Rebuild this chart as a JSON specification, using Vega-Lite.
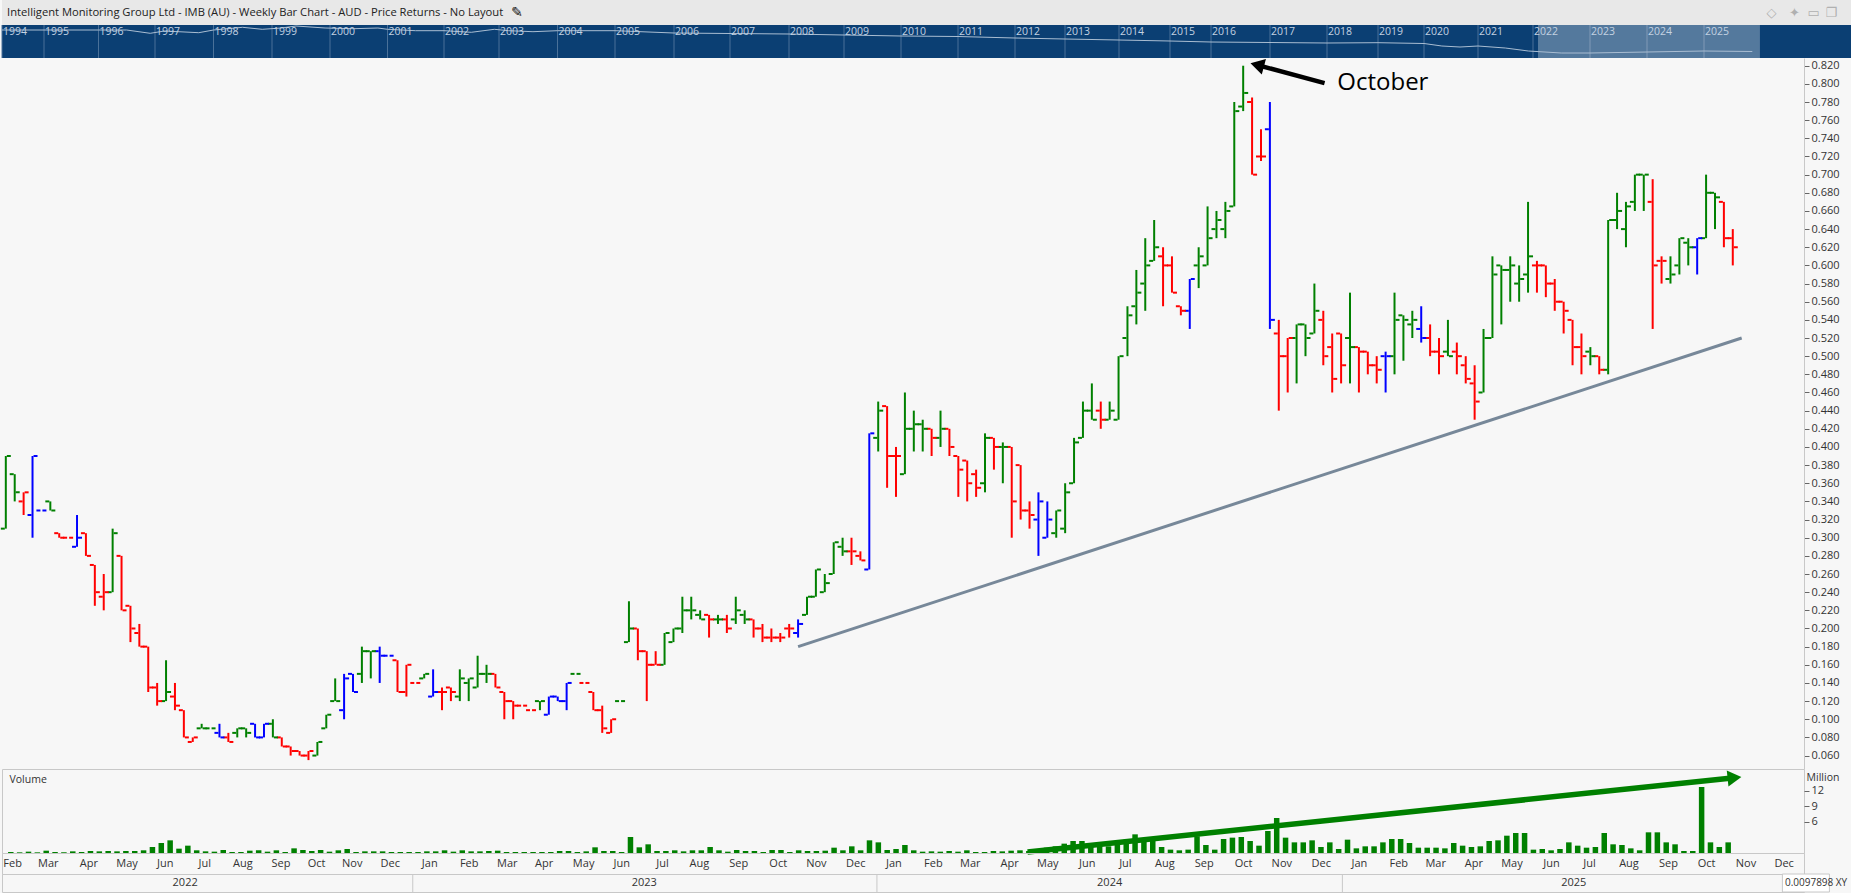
{
"$schema":"https://vega.github.io/schema/vega-lite/v6.json",
"padding":0,"spacing":0,"bounds":"flush","background":"#f7f7f7",
"config":{"view":{"stroke":null},"font":"Open Sans","text":{"font":"Open Sans"},"axis":{"labelOverlap":false,"labelBound":false,"labelFlush":false}},
"datasets":{"bars":[
{"date":"2022-02-15","open":0.31,"high":0.39,"low":0.31,"close":0.39,"trend":"up","volume":0.19},
{"date":"2022-02-22","open":0.37,"high":0.37,"low":0.34,"close":0.35,"trend":"up","volume":0.13},
{"date":"2022-03-01","open":0.34,"high":0.35,"low":0.325,"close":0.35,"trend":"down","volume":0.26},
{"date":"2022-03-08","open":0.325,"high":0.39,"low":0.3,"close":0.39,"trend":"neutral","volume":0.13},
{"date":"2022-03-15","open":0.33,"high":0.33,"low":0.33,"close":0.33,"trend":"neutral","volume":0.45},
{"date":"2022-03-22","open":0.34,"high":0.34,"low":0.33,"close":0.33,"trend":"up","volume":0.19},
{"date":"2022-03-29","open":0.305,"high":0.305,"low":0.3,"close":0.3,"trend":"down","volume":0.13},
{"date":"2022-04-05","open":0.3,"high":0.3,"low":0.3,"close":0.3,"trend":"down","volume":0.32},
{"date":"2022-04-12","open":0.29,"high":0.325,"low":0.29,"close":0.3,"trend":"neutral","volume":0.19},
{"date":"2022-04-19","open":0.305,"high":0.305,"low":0.28,"close":0.28,"trend":"down","volume":0.39},
{"date":"2022-04-26","open":0.27,"high":0.27,"low":0.225,"close":0.24,"trend":"down","volume":0.32},
{"date":"2022-05-03","open":0.235,"high":0.26,"low":0.22,"close":0.24,"trend":"down","volume":0.39},
{"date":"2022-05-10","open":0.24,"high":0.31,"low":0.24,"close":0.305,"trend":"up","volume":0.32},
{"date":"2022-05-17","open":0.28,"high":0.28,"low":0.22,"close":0.22,"trend":"down","volume":0.39},
{"date":"2022-05-24","open":0.225,"high":0.225,"low":0.185,"close":0.2,"trend":"down","volume":0.39},
{"date":"2022-05-31","open":0.195,"high":0.205,"low":0.18,"close":0.18,"trend":"down","volume":0.52},
{"date":"2022-06-07","open":0.18,"high":0.18,"low":0.13,"close":0.135,"trend":"down","volume":1.16},
{"date":"2022-06-14","open":0.135,"high":0.14,"low":0.115,"close":0.12,"trend":"down","volume":1.94},
{"date":"2022-06-21","open":0.12,"high":0.165,"low":0.12,"close":0.13,"trend":"up","volume":2.45},
{"date":"2022-06-28","open":0.125,"high":0.14,"low":0.11,"close":0.115,"trend":"down","volume":0.84},
{"date":"2022-07-05","open":0.11,"high":0.11,"low":0.08,"close":0.08,"trend":"down","volume":1.42},
{"date":"2022-07-12","open":0.075,"high":0.08,"low":0.075,"close":0.08,"trend":"down","volume":0.52},
{"date":"2022-07-19","open":0.09,"high":0.095,"low":0.09,"close":0.09,"trend":"up","volume":0.32},
{"date":"2022-07-26","open":0.09,"high":0.09,"low":0.09,"close":0.09,"trend":"up","volume":0.26},
{"date":"2022-08-02","open":0.085,"high":0.095,"low":0.08,"close":0.08,"trend":"neutral","volume":0.58},
{"date":"2022-08-09","open":0.08,"high":0.085,"low":0.075,"close":0.075,"trend":"down","volume":0.19},
{"date":"2022-08-16","open":0.085,"high":0.09,"low":0.08,"close":0.09,"trend":"up","volume":0.19},
{"date":"2022-08-23","open":0.09,"high":0.09,"low":0.08,"close":0.085,"trend":"up","volume":0.45},
{"date":"2022-08-30","open":0.095,"high":0.095,"low":0.08,"close":0.08,"trend":"neutral","volume":0.52},
{"date":"2022-09-06","open":0.08,"high":0.095,"low":0.08,"close":0.095,"trend":"neutral","volume":0.26},
{"date":"2022-09-13","open":0.095,"high":0.1,"low":0.08,"close":0.08,"trend":"up","volume":0.52},
{"date":"2022-09-20","open":0.08,"high":0.08,"low":0.07,"close":0.07,"trend":"down","volume":0.19},
{"date":"2022-09-27","open":0.07,"high":0.07,"low":0.06,"close":0.065,"trend":"down","volume":0.9},
{"date":"2022-10-04","open":0.065,"high":0.065,"low":0.06,"close":0.06,"trend":"down","volume":0.58},
{"date":"2022-10-11","open":0.06,"high":0.065,"low":0.055,"close":0.065,"trend":"down","volume":0.39},
{"date":"2022-10-18","open":0.06,"high":0.075,"low":0.06,"close":0.075,"trend":"up","volume":0.58},
{"date":"2022-10-25","open":0.09,"high":0.105,"low":0.09,"close":0.105,"trend":"up","volume":0.26},
{"date":"2022-11-01","open":0.12,"high":0.145,"low":0.12,"close":0.12,"trend":"up","volume":0.52},
{"date":"2022-11-08","open":0.11,"high":0.15,"low":0.1,"close":0.145,"trend":"neutral","volume":0.77},
{"date":"2022-11-15","open":0.15,"high":0.15,"low":0.13,"close":0.13,"trend":"neutral","volume":0.19},
{"date":"2022-11-22","open":0.15,"high":0.18,"low":0.14,"close":0.175,"trend":"up","volume":0.32},
{"date":"2022-11-29","open":0.175,"high":0.175,"low":0.145,"close":0.175,"trend":"up","volume":0.32},
{"date":"2022-12-06","open":0.175,"high":0.18,"low":0.14,"close":0.17,"trend":"neutral","volume":0.32},
{"date":"2022-12-13","open":0.17,"high":0.17,"low":0.17,"close":0.17,"trend":"neutral","volume":0.19},
{"date":"2022-12-20","open":0.165,"high":0.165,"low":0.13,"close":0.13,"trend":"down","volume":0.19},
{"date":"2022-12-27","open":0.13,"high":0.16,"low":0.125,"close":0.16,"trend":"down","volume":0.19},
{"date":"2023-01-03","open":0.14,"high":0.14,"low":0.14,"close":0.14,"trend":"down","volume":0.19},
{"date":"2023-01-10","open":0.145,"high":0.15,"low":0.145,"close":0.15,"trend":"up","volume":0.32},
{"date":"2023-01-17","open":0.125,"high":0.155,"low":0.125,"close":0.13,"trend":"neutral","volume":0.32},
{"date":"2023-01-24","open":0.13,"high":0.135,"low":0.11,"close":0.13,"trend":"down","volume":0.52},
{"date":"2023-01-31","open":0.135,"high":0.135,"low":0.12,"close":0.13,"trend":"down","volume":0.26},
{"date":"2023-02-07","open":0.125,"high":0.155,"low":0.12,"close":0.145,"trend":"up","volume":0.52},
{"date":"2023-02-14","open":0.14,"high":0.145,"low":0.12,"close":0.145,"trend":"up","volume":0.32},
{"date":"2023-02-21","open":0.135,"high":0.17,"low":0.135,"close":0.15,"trend":"up","volume":0.32},
{"date":"2023-02-28","open":0.15,"high":0.16,"low":0.14,"close":0.15,"trend":"up","volume":0.39},
{"date":"2023-03-07","open":0.15,"high":0.15,"low":0.135,"close":0.135,"trend":"down","volume":0.45},
{"date":"2023-03-14","open":0.13,"high":0.13,"low":0.1,"close":0.12,"trend":"down","volume":0.19},
{"date":"2023-03-21","open":0.12,"high":0.12,"low":0.1,"close":0.115,"trend":"down","volume":0.19},
{"date":"2023-03-28","open":0.115,"high":0.115,"low":0.115,"close":0.115,"trend":"down","volume":0.19},
{"date":"2023-04-04","open":0.11,"high":0.11,"low":0.11,"close":0.11,"trend":"down","volume":0.19},
{"date":"2023-04-11","open":0.12,"high":0.12,"low":0.11,"close":0.12,"trend":"up","volume":0.19},
{"date":"2023-04-18","open":0.105,"high":0.125,"low":0.105,"close":0.125,"trend":"neutral","volume":0.19},
{"date":"2023-04-25","open":0.125,"high":0.125,"low":0.12,"close":0.12,"trend":"neutral","volume":0.39},
{"date":"2023-05-02","open":0.12,"high":0.14,"low":0.11,"close":0.14,"trend":"neutral","volume":0.39},
{"date":"2023-05-09","open":0.15,"high":0.15,"low":0.15,"close":0.15,"trend":"up","volume":0.19},
{"date":"2023-05-16","open":0.14,"high":0.14,"low":0.14,"close":0.14,"trend":"down","volume":0.32},
{"date":"2023-05-23","open":0.13,"high":0.13,"low":0.11,"close":0.11,"trend":"down","volume":1.1},
{"date":"2023-05-30","open":0.11,"high":0.115,"low":0.085,"close":0.09,"trend":"down","volume":0.39},
{"date":"2023-06-06","open":0.085,"high":0.1,"low":0.085,"close":0.1,"trend":"down","volume":0.39},
{"date":"2023-06-13","open":0.12,"high":0.12,"low":0.12,"close":0.12,"trend":"up","volume":0.19},
{"date":"2023-06-20","open":0.185,"high":0.23,"low":0.185,"close":0.2,"trend":"up","volume":3.1},
{"date":"2023-06-27","open":0.2,"high":0.2,"low":0.165,"close":0.175,"trend":"down","volume":1.1},
{"date":"2023-07-04","open":0.175,"high":0.175,"low":0.12,"close":0.16,"trend":"down","volume":1.68},
{"date":"2023-07-11","open":0.16,"high":0.175,"low":0.16,"close":0.16,"trend":"down","volume":0.39},
{"date":"2023-07-18","open":0.16,"high":0.195,"low":0.16,"close":0.195,"trend":"up","volume":0.39},
{"date":"2023-07-25","open":0.185,"high":0.2,"low":0.185,"close":0.2,"trend":"up","volume":0.52},
{"date":"2023-08-01","open":0.2,"high":0.235,"low":0.195,"close":0.22,"trend":"up","volume":0.32},
{"date":"2023-08-08","open":0.22,"high":0.235,"low":0.21,"close":0.22,"trend":"up","volume":0.52},
{"date":"2023-08-15","open":0.215,"high":0.22,"low":0.21,"close":0.21,"trend":"up","volume":0.52},
{"date":"2023-08-22","open":0.215,"high":0.215,"low":0.19,"close":0.21,"trend":"down","volume":1.16},
{"date":"2023-08-29","open":0.21,"high":0.215,"low":0.205,"close":0.21,"trend":"up","volume":0.52},
{"date":"2023-09-05","open":0.21,"high":0.215,"low":0.195,"close":0.2,"trend":"down","volume":0.26},
{"date":"2023-09-12","open":0.21,"high":0.235,"low":0.205,"close":0.22,"trend":"up","volume":0.58},
{"date":"2023-09-19","open":0.215,"high":0.22,"low":0.205,"close":0.21,"trend":"up","volume":0.39},
{"date":"2023-09-26","open":0.21,"high":0.21,"low":0.19,"close":0.2,"trend":"down","volume":0.39},
{"date":"2023-10-03","open":0.2,"high":0.205,"low":0.185,"close":0.19,"trend":"down","volume":0.19},
{"date":"2023-10-10","open":0.19,"high":0.2,"low":0.185,"close":0.19,"trend":"down","volume":0.58},
{"date":"2023-10-17","open":0.19,"high":0.195,"low":0.185,"close":0.19,"trend":"down","volume":0.58},
{"date":"2023-10-24","open":0.2,"high":0.205,"low":0.19,"close":0.2,"trend":"down","volume":0.19},
{"date":"2023-10-31","open":0.195,"high":0.21,"low":0.19,"close":0.205,"trend":"neutral","volume":0.52},
{"date":"2023-11-07","open":0.215,"high":0.235,"low":0.215,"close":0.235,"trend":"up","volume":0.39},
{"date":"2023-11-14","open":0.235,"high":0.265,"low":0.235,"close":0.265,"trend":"up","volume":0.39},
{"date":"2023-11-21","open":0.24,"high":0.26,"low":0.24,"close":0.25,"trend":"up","volume":0.45},
{"date":"2023-11-28","open":0.26,"high":0.295,"low":0.26,"close":0.295,"trend":"up","volume":1.03},
{"date":"2023-12-05","open":0.29,"high":0.3,"low":0.28,"close":0.285,"trend":"up","volume":0.52},
{"date":"2023-12-12","open":0.285,"high":0.3,"low":0.27,"close":0.285,"trend":"down","volume":1.29},
{"date":"2023-12-19","open":0.28,"high":0.285,"low":0.275,"close":0.275,"trend":"down","volume":0.52},
{"date":"2023-12-26","open":0.265,"high":0.415,"low":0.265,"close":0.415,"trend":"neutral","volume":2.45},
{"date":"2024-01-02","open":0.41,"high":0.45,"low":0.395,"close":0.44,"trend":"up","volume":2.06},
{"date":"2024-01-09","open":0.445,"high":0.445,"low":0.355,"close":0.39,"trend":"down","volume":0.58},
{"date":"2024-01-16","open":0.39,"high":0.4,"low":0.345,"close":0.39,"trend":"down","volume":0.77},
{"date":"2024-01-23","open":0.37,"high":0.46,"low":0.37,"close":0.42,"trend":"up","volume":1.55},
{"date":"2024-01-30","open":0.42,"high":0.44,"low":0.395,"close":0.425,"trend":"up","volume":0.52},
{"date":"2024-02-06","open":0.425,"high":0.43,"low":0.395,"close":0.42,"trend":"up","volume":0.26},
{"date":"2024-02-13","open":0.42,"high":0.42,"low":0.39,"close":0.41,"trend":"down","volume":0.32},
{"date":"2024-02-20","open":0.41,"high":0.44,"low":0.4,"close":0.42,"trend":"up","volume":0.26},
{"date":"2024-02-27","open":0.42,"high":0.42,"low":0.39,"close":0.4,"trend":"down","volume":0.39},
{"date":"2024-03-05","open":0.39,"high":0.39,"low":0.345,"close":0.375,"trend":"down","volume":0.26},
{"date":"2024-03-12","open":0.385,"high":0.385,"low":0.34,"close":0.36,"trend":"down","volume":0.52},
{"date":"2024-03-19","open":0.37,"high":0.375,"low":0.345,"close":0.355,"trend":"down","volume":0.19},
{"date":"2024-03-26","open":0.36,"high":0.415,"low":0.35,"close":0.41,"trend":"up","volume":0.19},
{"date":"2024-04-02","open":0.41,"high":0.41,"low":0.375,"close":0.4,"trend":"down","volume":0.39},
{"date":"2024-04-09","open":0.4,"high":0.405,"low":0.36,"close":0.4,"trend":"up","volume":0.32},
{"date":"2024-04-16","open":0.4,"high":0.4,"low":0.3,"close":0.34,"trend":"down","volume":0.45},
{"date":"2024-04-23","open":0.38,"high":0.38,"low":0.32,"close":0.33,"trend":"down","volume":0.52},
{"date":"2024-04-30","open":0.33,"high":0.34,"low":0.31,"close":0.325,"trend":"down","volume":0.39},
{"date":"2024-05-07","open":0.32,"high":0.35,"low":0.28,"close":0.34,"trend":"neutral","volume":0.77},
{"date":"2024-05-14","open":0.3,"high":0.34,"low":0.3,"close":0.32,"trend":"neutral","volume":1.03},
{"date":"2024-05-21","open":0.305,"high":0.33,"low":0.3,"close":0.33,"trend":"up","volume":1.29},
{"date":"2024-05-28","open":0.31,"high":0.36,"low":0.305,"close":0.35,"trend":"up","volume":1.81},
{"date":"2024-06-04","open":0.36,"high":0.41,"low":0.36,"close":0.405,"trend":"up","volume":2.32},
{"date":"2024-06-11","open":0.41,"high":0.45,"low":0.41,"close":0.44,"trend":"up","volume":2.32},
{"date":"2024-06-18","open":0.44,"high":0.47,"low":0.43,"close":0.43,"trend":"up","volume":1.94},
{"date":"2024-06-25","open":0.44,"high":0.45,"low":0.42,"close":0.43,"trend":"down","volume":1.68},
{"date":"2024-07-02","open":0.43,"high":0.45,"low":0.43,"close":0.44,"trend":"up","volume":1.29},
{"date":"2024-07-09","open":0.43,"high":0.5,"low":0.43,"close":0.5,"trend":"up","volume":2.32},
{"date":"2024-07-16","open":0.52,"high":0.555,"low":0.5,"close":0.545,"trend":"up","volume":2.58},
{"date":"2024-07-23","open":0.555,"high":0.595,"low":0.535,"close":0.57,"trend":"up","volume":3.61},
{"date":"2024-07-30","open":0.58,"high":0.63,"low":0.55,"close":0.6,"trend":"up","volume":2.58},
{"date":"2024-08-06","open":0.605,"high":0.65,"low":0.605,"close":0.62,"trend":"up","volume":2.32},
{"date":"2024-08-13","open":0.61,"high":0.62,"low":0.555,"close":0.6,"trend":"down","volume":1.16},
{"date":"2024-08-20","open":0.6,"high":0.61,"low":0.57,"close":0.57,"trend":"down","volume":0.65},
{"date":"2024-08-27","open":0.555,"high":0.555,"low":0.545,"close":0.55,"trend":"down","volume":0.52},
{"date":"2024-09-03","open":0.55,"high":0.585,"low":0.53,"close":0.585,"trend":"neutral","volume":0.65},
{"date":"2024-09-10","open":0.6,"high":0.62,"low":0.575,"close":0.61,"trend":"up","volume":3.23},
{"date":"2024-09-17","open":0.6,"high":0.665,"low":0.6,"close":0.63,"trend":"up","volume":1.55},
{"date":"2024-09-24","open":0.64,"high":0.66,"low":0.63,"close":0.65,"trend":"up","volume":0.65},
{"date":"2024-10-01","open":0.64,"high":0.67,"low":0.63,"close":0.66,"trend":"up","volume":2.71},
{"date":"2024-10-08","open":0.665,"high":0.78,"low":0.665,"close":0.77,"trend":"up","volume":2.97},
{"date":"2024-10-15","open":0.775,"high":0.82,"low":0.77,"close":0.79,"trend":"up","volume":3.1},
{"date":"2024-10-22","open":0.78,"high":0.785,"low":0.7,"close":0.7,"trend":"down","volume":2.32},
{"date":"2024-10-29","open":0.72,"high":0.75,"low":0.715,"close":0.72,"trend":"down","volume":1.42},
{"date":"2024-11-05","open":0.75,"high":0.78,"low":0.53,"close":0.54,"trend":"neutral","volume":4.26},
{"date":"2024-11-12","open":0.525,"high":0.54,"low":0.44,"close":0.5,"trend":"down","volume":6.77},
{"date":"2024-11-19","open":0.5,"high":0.52,"low":0.46,"close":0.52,"trend":"down","volume":2.97},
{"date":"2024-11-26","open":0.52,"high":0.535,"low":0.47,"close":0.535,"trend":"up","volume":2.06},
{"date":"2024-12-03","open":0.535,"high":0.535,"low":0.5,"close":0.52,"trend":"up","volume":2.06},
{"date":"2024-12-10","open":0.525,"high":0.58,"low":0.525,"close":0.55,"trend":"up","volume":2.45},
{"date":"2024-12-17","open":0.54,"high":0.55,"low":0.49,"close":0.5,"trend":"down","volume":1.16},
{"date":"2024-12-24","open":0.51,"high":0.525,"low":0.46,"close":0.475,"trend":"down","volume":2.06},
{"date":"2024-12-31","open":0.525,"high":0.525,"low":0.47,"close":0.49,"trend":"down","volume":0.77},
{"date":"2025-01-07","open":0.52,"high":0.57,"low":0.47,"close":0.51,"trend":"up","volume":2.58},
{"date":"2025-01-14","open":0.51,"high":0.51,"low":0.46,"close":0.505,"trend":"down","volume":0.9},
{"date":"2025-01-21","open":0.505,"high":0.505,"low":0.48,"close":0.49,"trend":"down","volume":1.29},
{"date":"2025-01-28","open":0.49,"high":0.5,"low":0.47,"close":0.485,"trend":"down","volume":1.29},
{"date":"2025-02-04","open":0.5,"high":0.505,"low":0.46,"close":0.5,"trend":"neutral","volume":2.06},
{"date":"2025-02-11","open":0.5,"high":0.57,"low":0.48,"close":0.54,"trend":"up","volume":2.71},
{"date":"2025-02-18","open":0.545,"high":0.545,"low":0.495,"close":0.54,"trend":"up","volume":2.71},
{"date":"2025-02-25","open":0.535,"high":0.55,"low":0.52,"close":0.54,"trend":"up","volume":1.94},
{"date":"2025-03-04","open":0.53,"high":0.555,"low":0.515,"close":0.52,"trend":"neutral","volume":1.03},
{"date":"2025-03-11","open":0.52,"high":0.535,"low":0.5,"close":0.505,"trend":"down","volume":1.03},
{"date":"2025-03-18","open":0.505,"high":0.52,"low":0.48,"close":0.5,"trend":"down","volume":1.03},
{"date":"2025-03-25","open":0.505,"high":0.54,"low":0.5,"close":0.5,"trend":"up","volume":0.9},
{"date":"2025-04-01","open":0.505,"high":0.515,"low":0.48,"close":0.5,"trend":"down","volume":1.94},
{"date":"2025-04-08","open":0.49,"high":0.5,"low":0.47,"close":0.475,"trend":"down","volume":1.42},
{"date":"2025-04-15","open":0.47,"high":0.49,"low":0.43,"close":0.45,"trend":"down","volume":1.16},
{"date":"2025-04-22","open":0.46,"high":0.53,"low":0.46,"close":0.52,"trend":"up","volume":1.29},
{"date":"2025-04-29","open":0.52,"high":0.61,"low":0.52,"close":0.59,"trend":"up","volume":2.32},
{"date":"2025-05-06","open":0.6,"high":0.6,"low":0.535,"close":0.595,"trend":"up","volume":2.45},
{"date":"2025-05-13","open":0.595,"high":0.61,"low":0.56,"close":0.6,"trend":"up","volume":3.35},
{"date":"2025-05-20","open":0.58,"high":0.6,"low":0.56,"close":0.585,"trend":"up","volume":3.87},
{"date":"2025-05-27","open":0.59,"high":0.67,"low":0.57,"close":0.61,"trend":"up","volume":3.87},
{"date":"2025-06-03","open":0.6,"high":0.605,"low":0.57,"close":0.6,"trend":"down","volume":0.65},
{"date":"2025-06-10","open":0.6,"high":0.6,"low":0.565,"close":0.58,"trend":"down","volume":0.77},
{"date":"2025-06-17","open":0.58,"high":0.585,"low":0.55,"close":0.56,"trend":"down","volume":0.52},
{"date":"2025-06-24","open":0.56,"high":0.56,"low":0.525,"close":0.55,"trend":"down","volume":0.77},
{"date":"2025-07-01","open":0.54,"high":0.54,"low":0.49,"close":0.51,"trend":"down","volume":2.06},
{"date":"2025-07-08","open":0.51,"high":0.525,"low":0.48,"close":0.5,"trend":"down","volume":1.42},
{"date":"2025-07-15","open":0.505,"high":0.51,"low":0.49,"close":0.5,"trend":"up","volume":1.03},
{"date":"2025-07-22","open":0.5,"high":0.5,"low":0.48,"close":0.485,"trend":"down","volume":1.16},
{"date":"2025-07-29","open":0.485,"high":0.65,"low":0.48,"close":0.65,"trend":"up","volume":3.87},
{"date":"2025-08-05","open":0.65,"high":0.68,"low":0.64,"close":0.66,"trend":"up","volume":1.68},
{"date":"2025-08-12","open":0.64,"high":0.67,"low":0.62,"close":0.665,"trend":"up","volume":1.55},
{"date":"2025-08-19","open":0.67,"high":0.7,"low":0.66,"close":0.7,"trend":"up","volume":0.9},
{"date":"2025-08-26","open":0.7,"high":0.7,"low":0.66,"close":0.7,"trend":"up","volume":0.52},
{"date":"2025-09-02","open":0.67,"high":0.695,"low":0.53,"close":0.6,"trend":"down","volume":4.0},
{"date":"2025-09-09","open":0.605,"high":0.61,"low":0.58,"close":0.605,"trend":"down","volume":4.0},
{"date":"2025-09-16","open":0.585,"high":0.61,"low":0.58,"close":0.59,"trend":"up","volume":2.06},
{"date":"2025-09-23","open":0.6,"high":0.63,"low":0.59,"close":0.63,"trend":"up","volume":1.68},
{"date":"2025-09-30","open":0.625,"high":0.63,"low":0.6,"close":0.62,"trend":"up","volume":0.39},
{"date":"2025-10-07","open":0.62,"high":0.63,"low":0.59,"close":0.63,"trend":"neutral","volume":0.39},
{"date":"2025-10-14","open":0.63,"high":0.7,"low":0.63,"close":0.68,"trend":"up","volume":12.77},
{"date":"2025-10-21","open":0.68,"high":0.68,"low":0.64,"close":0.675,"trend":"up","volume":2.06},
{"date":"2025-10-28","open":0.67,"high":0.67,"low":0.62,"close":0.63,"trend":"down","volume":1.16},
{"date":"2025-11-04","open":0.63,"high":0.64,"low":0.6,"close":0.62,"trend":"down","volume":2.06}
],
"months":[
{"date":"2022-02-07","month":"Feb"},{"date":"2022-03-07","month":"Mar"},{"date":"2022-04-08","month":"Apr"},{"date":"2022-05-08","month":"May"},{"date":"2022-06-07","month":"Jun"},{"date":"2022-07-08","month":"Jul"},{"date":"2022-08-07","month":"Aug"},{"date":"2022-09-06","month":"Sep"},{"date":"2022-10-04","month":"Oct"},{"date":"2022-11-01","month":"Nov"},{"date":"2022-12-01","month":"Dec"},
{"date":"2023-01-01","month":"Jan"},{"date":"2023-02-01","month":"Feb"},{"date":"2023-03-03","month":"Mar"},{"date":"2023-04-01","month":"Apr"},{"date":"2023-05-02","month":"May"},{"date":"2023-06-01","month":"Jun"},{"date":"2023-07-03","month":"Jul"},{"date":"2023-08-01","month":"Aug"},{"date":"2023-09-01","month":"Sep"},{"date":"2023-10-02","month":"Oct"},{"date":"2023-11-01","month":"Nov"},{"date":"2023-12-02","month":"Dec"},
{"date":"2024-01-01","month":"Jan"},{"date":"2024-02-01","month":"Feb"},{"date":"2024-03-01","month":"Mar"},{"date":"2024-04-01","month":"Apr"},{"date":"2024-05-01","month":"May"},{"date":"2024-06-01","month":"Jun"},{"date":"2024-07-01","month":"Jul"},{"date":"2024-08-01","month":"Aug"},{"date":"2024-09-01","month":"Sep"},{"date":"2024-10-02","month":"Oct"},{"date":"2024-11-01","month":"Nov"},{"date":"2024-12-02","month":"Dec"},
{"date":"2025-01-01","month":"Jan"},{"date":"2025-02-01","month":"Feb"},{"date":"2025-03-02","month":"Mar"},{"date":"2025-04-01","month":"Apr"},{"date":"2025-05-01","month":"May"},{"date":"2025-06-01","month":"Jun"},{"date":"2025-07-01","month":"Jul"},{"date":"2025-08-01","month":"Aug"},{"date":"2025-09-01","month":"Sep"},{"date":"2025-10-01","month":"Oct"},{"date":"2025-11-01","month":"Nov"},{"date":"2025-12-01","month":"Dec"}
],
"navYears":[
{"date":"1994-01-01","year":"1994"},{"date":"1995-01-01","year":"1995"},{"date":"1996-01-01","year":"1996"},{"date":"1997-01-01","year":"1997"},{"date":"1998-01-01","year":"1998"},{"date":"1999-01-01","year":"1999"},{"date":"2000-01-01","year":"2000"},{"date":"2001-01-01","year":"2001"},{"date":"2002-01-01","year":"2002"},{"date":"2003-01-01","year":"2003"},{"date":"2004-01-01","year":"2004"},{"date":"2005-01-01","year":"2005"},{"date":"2006-01-01","year":"2006"},{"date":"2007-01-01","year":"2007"},{"date":"2008-01-01","year":"2008"},{"date":"2009-01-01","year":"2009"},{"date":"2010-01-01","year":"2010"},{"date":"2011-01-01","year":"2011"},{"date":"2012-01-01","year":"2012"},{"date":"2013-01-01","year":"2013"},{"date":"2014-01-01","year":"2014"},{"date":"2015-01-01","year":"2015"},{"date":"2016-01-01","year":"2016"},{"date":"2017-01-01","year":"2017"},{"date":"2018-01-01","year":"2018"},{"date":"2019-01-01","year":"2019"},{"date":"2020-01-01","year":"2020"},{"date":"2021-01-01","year":"2021"},{"date":"2022-01-01","year":"2022"},{"date":"2023-01-01","year":"2023"},{"date":"2024-01-01","year":"2024"},{"date":"2025-01-01","year":"2025"}
],
"navLine":[
{"date":"1994-01-01","level":28},{"date":"1995-01-01","level":28},{"date":"1996-01-01","level":28},{"date":"1996-07-01","level":28},{"date":"1996-12-01","level":24.7},{"date":"1997-03-01","level":27},{"date":"1997-10-01","level":25.3},{"date":"1998-01-01","level":28},{"date":"1998-07-01","level":30.7},{"date":"1998-11-01","level":28.7},{"date":"1999-03-01","level":30},{"date":"1999-06-01","level":32},{"date":"1999-12-01","level":30},{"date":"2000-06-01","level":29.3},{"date":"2000-11-01","level":30},{"date":"2001-01-01","level":28.7},{"date":"2001-07-01","level":27.3},{"date":"2002-01-01","level":27.3},{"date":"2002-07-01","level":25.7},{"date":"2002-12-01","level":28.7},{"date":"2003-03-01","level":27.3},{"date":"2003-08-01","level":26.3},{"date":"2004-01-01","level":27.3},{"date":"2005-01-01","level":27.3},{"date":"2006-01-01","level":25},{"date":"2007-01-01","level":24.5},{"date":"2008-01-01","level":24},{"date":"2009-01-01","level":23},{"date":"2010-01-01","level":22},{"date":"2011-01-01","level":21.5},{"date":"2012-01-01","level":20},{"date":"2013-01-01","level":19},{"date":"2014-01-01","level":18},{"date":"2015-01-01","level":17},{"date":"2016-01-01","level":16},{"date":"2017-01-01","level":15.5},{"date":"2018-01-01","level":15},{"date":"2019-01-01","level":15.3},{"date":"2020-01-01","level":14.5},{"date":"2020-05-01","level":12},{"date":"2020-09-01","level":11},{"date":"2021-01-01","level":12},{"date":"2021-07-01","level":10},{"date":"2021-12-01","level":7},{"date":"2022-07-01","level":5},{"date":"2023-01-01","level":5},{"date":"2024-01-01","level":6},{"date":"2025-01-01","level":7},{"date":"2025-11-01","level":6.5}
]
},
"vconcat":[
{
"width":1851,"height":25,
"view":{"fill":"#e8e8e8"},
"encoding":{"x":{"field":"date","type":"temporal","scale":{"type":"utc","domain":["2022-02-12","2026-02-06"]},"axis":null}},
"layer":[
{"data":{"values":[{"date":"2022-02-16","label":"Intelligent Monitoring Group Ltd - IMB (AU) - Weekly Bar Chart - AUD - Price Returns - No Layout"}]},"mark":{"type":"text","align":"left","fontSize":11.2,"color":"#222"},"encoding":{"text":{"field":"label"}}},
{"data":{"values":[{"date":"2023-03-24","label":"✎"}]},"mark":{"type":"text","align":"center","fontSize":14,"font":"DejaVu Sans","color":"#111"},"encoding":{"text":{"field":"label"}}},
{"data":{"values":[{"date":"2025-12-04","label":"◇"},{"date":"2025-12-22","label":"✦"},{"date":"2026-01-06","label":"▭"},{"date":"2026-01-20","label":"❐"}]},"mark":{"type":"text","align":"center","fontSize":13,"font":"DejaVu Sans","color":"#b0b0b0"},"encoding":{"text":{"field":"label"}}}
]
},
{
"width":1851,"height":33,
"view":{"fill":"#0b3f73"},
"encoding":{"x":{"field":"date","type":"temporal","scale":{"type":"utc","domainRaw":{"expr":"[utc(1994,0,1),utc(1995,0,1),utc(1996,0,1),utc(1997,0,1),utc(1998,0,1),utc(1999,0,1),utc(2000,0,1),utc(2001,0,1),utc(2002,0,1),utc(2003,0,1),utc(2004,0,1),utc(2005,0,1),utc(2006,0,1),utc(2007,0,1),utc(2008,0,1),utc(2009,0,1),utc(2010,0,1),utc(2011,0,1),utc(2012,0,1),utc(2013,0,1),utc(2014,0,1),utc(2015,0,1),utc(2016,0,1),utc(2017,0,1),utc(2018,0,1),utc(2019,0,1),utc(2020,0,1),utc(2021,0,1),utc(2022,0,1),utc(2023,0,1),utc(2024,0,1),utc(2025,0,1),utc(2026,0,1)]"},"range":[0,42,96.5,153,211.5,270,328,385.5,442,497,555.5,613,672,728,787,842,899,956,1013,1063,1117,1168,1209,1268,1325,1376,1422,1476,1531,1588,1645,1702,1760]},"axis":null}},
"layer":[
{"data":{"name":"navYears"},"mark":{"type":"rule","stroke":"#4a7199","strokeWidth":1},"encoding":{}},
{"data":{"values":[{"date":"2022-02-02","end":"2025-12-19"}]},"mark":{"type":"rect","fill":"#ffffff","opacity":0.3},"encoding":{"x2":{"field":"end"}}},
{"data":{"name":"navLine"},"mark":{"type":"line","stroke":"#a9bdd2","strokeWidth":1},"encoding":{"y":{"field":"level","type":"quantitative","scale":{"domain":[0,33],"nice":false,"zero":false},"axis":null}}},
{"data":{"name":"navYears"},"mark":{"type":"text","align":"left","dx":1,"fontSize":10.5,"color":"#c3d2e2"},"encoding":{"y":{"datum":26,"type":"quantitative","scale":{"domain":[0,33],"nice":false,"zero":false},"axis":null},"text":{"field":"year"}}}
]
},
{
"width":1802,"height":711,
"data":{"name":"bars"},
"encoding":{"x":{"field":"date","type":"temporal","scale":{"type":"utc","domain":["2022-02-12","2025-12-30"]},"axis":null}},
"layer":[
{"mark":{"type":"rule","strokeWidth":2},"encoding":{"y":{"field":"low","type":"quantitative","scale":{"domain":[0.0452,0.8285],"nice":false,"zero":false},"axis":{"orient":"right","title":null,"format":".3f","grid":false,"labelOverlap":false,"tickCount":40,"values":[0.06,0.08,0.1,0.12,0.14,0.16,0.18,0.2,0.22,0.24,0.26,0.28,0.3,0.32,0.34,0.36,0.38,0.4,0.42,0.44,0.46,0.48,0.5,0.52,0.54,0.56,0.58,0.6,0.62,0.64,0.66,0.68,0.7,0.72,0.74,0.76,0.78,0.8,0.82],"labelFont":"Open Sans","labelFontSize":11,"labelColor":"#333","tickColor":"#666","tickSize":5,"domainColor":"#c8c8c8"}},"y2":{"field":"high"},"color":{"field":"trend","type":"nominal","scale":{"domain":["up","down","neutral"],"range":["#008000","#ff0000","#0000ff"]},"legend":null}}},
{"mark":{"type":"tick","orient":"horizontal","size":4,"thickness":2,"xOffset":-3,"opacity":1},"encoding":{"y":{"field":"open","type":"quantitative","scale":{"domain":[0.0452,0.8285],"nice":false,"zero":false}},"color":{"field":"trend","type":"nominal","legend":null}}},
{"mark":{"type":"tick","orient":"horizontal","size":4,"thickness":2,"xOffset":3,"opacity":1},"encoding":{"y":{"field":"close","type":"quantitative","scale":{"domain":[0.0452,0.8285],"nice":false,"zero":false}},"color":{"field":"trend","type":"nominal","legend":null}}},
{"data":{"values":[{"date":"2023-10-31","price":0.18},{"date":"2025-11-11","price":0.52}]},"mark":{"type":"line","stroke":"#778899","strokeWidth":3},"encoding":{"y":{"field":"price","type":"quantitative","scale":{"domain":[0.0452,0.8285],"nice":false,"zero":false}}}},
{"data":{"values":[{"date":"2024-12-18","end":"2024-10-26","price":0.8009,"priceEnd":0.8208}]},"mark":{"type":"rule","stroke":"#000","strokeWidth":4.5},"encoding":{"x2":{"field":"end"},"y":{"field":"price","type":"quantitative","scale":{"domain":[0.0452,0.8285],"nice":false,"zero":false}},"y2":{"field":"priceEnd"}}},
{"data":{"values":[{"date":"2024-10-26","price":0.8208}]},"mark":{"type":"point","shape":"triangle-up","filled":true,"size":256,"angle":-75,"color":"#000","opacity":1},"encoding":{"y":{"field":"price","type":"quantitative","scale":{"domain":[0.0452,0.8285],"nice":false,"zero":false}}}},
{"data":{"values":[{"date":"2024-12-28","price":0.801,"label":"October"}]},"mark":{"type":"text","align":"left","fontSize":24,"color":"#000"},"encoding":{"y":{"field":"price","type":"quantitative","scale":{"domain":[0.0452,0.8285],"nice":false,"zero":false}},"text":{"field":"label"}}}
]
},
{
"width":1802,"height":84,
"view":{"stroke":"#c8c8c8"},
"data":{"name":"bars"},
"encoding":{"x":{"field":"date","type":"temporal","scale":{"type":"utc","domain":["2022-02-12","2025-12-30"]},"axis":null}},
"layer":[
{"mark":{"type":"bar","size":5.5,"color":"#008000"},"encoding":{"y":{"field":"volume","type":"quantitative","scale":{"domain":[0,16.25],"nice":false},"axis":{"orient":"right","title":null,"grid":false,"values":[6,9,12],"labelFont":"Open Sans","labelFontSize":11,"labelColor":"#333","tickColor":"#666","tickSize":5,"domain":false}}}},
{"data":{"values":[{"date":"2024-04-29","end":"2025-11-09","volume":0.2,"volumeEnd":14.56}]},"mark":{"type":"rule","stroke":"#008000","strokeWidth":5.5},"encoding":{"x2":{"field":"end"},"y":{"field":"volume","type":"quantitative","scale":{"domain":[0,16.25],"nice":false}},"y2":{"field":"volumeEnd"}}},
{"data":{"values":[{"date":"2025-11-09","volume":14.56}]},"mark":{"type":"point","shape":"triangle-up","filled":true,"size":256,"angle":84,"color":"#008000","opacity":1,"clip":false},"encoding":{"y":{"field":"volume","type":"quantitative","scale":{"domain":[0,16.25],"nice":false}}}},
{"data":{"values":[{"date":"2022-02-14","volume":14.2,"label":"Volume"},{"date":"2026-01-05","volume":14.6,"label":"Million"}]},"mark":{"type":"text","align":"left","fontSize":10.5,"color":"#333"},"encoding":{"y":{"field":"volume","type":"quantitative","scale":{"domain":[0,16.25],"nice":false}},"text":{"field":"label"}}}
]
},
{
"width":1802,"height":21,
"view":{"stroke":"#c8c8c8"},
"data":{"name":"months"},
"encoding":{"x":{"field":"date","type":"temporal","scale":{"type":"utc","domain":["2022-02-12","2025-12-30"]},"axis":null}},
"layer":[
{"transform":[{"filter":"datum.date > '2022-02-12'"}],"mark":{"type":"rule","stroke":"#c8c8c8"},"encoding":{}},
{"mark":{"type":"text","align":"center","dx":17,"fontSize":11,"color":"#333"},"encoding":{"text":{"field":"month"}}}
]
},
{
"width":1802,"height":18,
"view":{"stroke":"#c8c8c8"},
"encoding":{"x":{"field":"date","type":"temporal","scale":{"type":"utc","domain":["2022-02-12","2025-12-30"]},"axis":null}},
"layer":[
{"data":{"values":[{"date":"2023-01-01"},{"date":"2024-01-01"},{"date":"2025-01-01"}]},"mark":{"type":"rule","stroke":"#c8c8c8"},"encoding":{}},
{"data":{"values":[{"date":"2022-07-06","year":"2022"},{"date":"2023-07-02","year":"2023"},{"date":"2024-07-02","year":"2024"},{"date":"2025-07-02","year":"2025"}]},"mark":{"type":"text","align":"center","fontSize":11,"color":"#333"},"encoding":{"text":{"field":"year"}}},
{"data":{"values":[{"date":"2025-12-13","end":"2026-01-19"}]},"mark":{"type":"rect","fill":"#ffffff","stroke":"#c8c8c8"},"encoding":{"x2":{"field":"end"}}},
{"data":{"values":[{"date":"2025-12-15","label":"0.0097898"},{"date":"2026-01-24","label":"XY"}]},"mark":{"type":"text","align":"left","fontSize":10,"color":"#333"},"encoding":{"text":{"field":"label"}}}
]
}
]
}
